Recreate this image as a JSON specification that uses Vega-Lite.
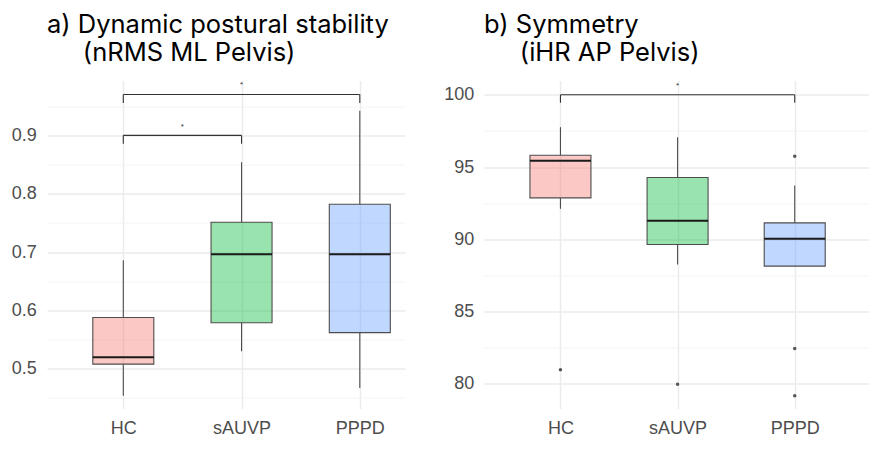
{
  "$schema": "https://vega.github.io/schema/vega-lite/v6.json",
  "background": "white",
  "padding": {"left": 11, "top": 12.5, "right": 0, "bottom": 0},
  "spacing": 38,
  "config": {
    "view": {"stroke": null},
    "font": "Liberation Sans",
    "axis": {
      "labelFont": "Liberation Sans",
      "labelFontSize": 18,
      "labelColor": "#4D4D4D",
      "domain": false,
      "ticks": false,
      "tickSize": 0,
      "labelOverlap": false,
      "tickCount": 30
    },
    "title": {
      "anchor": "start",
      "frame": "group",
      "font": "Inter",
      "fontSize": 25.5,
      "fontWeight": "normal",
      "color": "#000000",
      "lineHeight": 28.5,
      "offset": 14
    }
  },
  "datasets": {
    "boxA": [
      {"group": "HC", "pos": 1, "low": 0.454, "q1": 0.508, "median": 0.52, "q3": 0.588, "high": 0.686},
      {"group": "sAUVP", "pos": 2, "low": 0.53, "q1": 0.579, "median": 0.6965, "q3": 0.751, "high": 0.854},
      {"group": "PPPD", "pos": 3, "low": 0.467, "q1": 0.562, "median": 0.6965, "q3": 0.782, "high": 0.942}
    ],
    "sigA": [
      {"from": 1, "to": 2, "mid": 1.5, "level": 0.9, "legEnd": 0.8857, "starY": 0.915, "label": "*"},
      {"from": 1, "to": 3, "mid": 2, "level": 0.97, "legEnd": 0.9556, "starY": 0.986, "label": "*"}
    ],
    "boxB": [
      {"group": "HC", "pos": 1, "low": 92.11, "q1": 92.87, "median": 95.43, "q3": 95.82, "high": 97.76},
      {"group": "sAUVP", "pos": 2, "low": 88.26, "q1": 89.64, "median": 91.28, "q3": 94.28, "high": 97.07},
      {"group": "PPPD", "pos": 3, "low": 88.14, "q1": 88.14, "median": 90.03, "q3": 91.14, "high": 93.72}
    ],
    "outB": [
      {"group": "HC", "pos": 1, "value": 80.97},
      {"group": "sAUVP", "pos": 2, "value": 79.97},
      {"group": "PPPD", "pos": 3, "value": 95.75},
      {"group": "PPPD", "pos": 3, "value": 82.44},
      {"group": "PPPD", "pos": 3, "value": 79.17}
    ],
    "sigB": [
      {"from": 1, "to": 3, "mid": 2, "level": 100, "legEnd": 99.45, "starY": 100.64, "label": "*"}
    ]
  },
  "hconcat": [
    {
      "width": 358,
      "height": 328,
      "title": {"text": ["a) Dynamic postural stability", "\u200b\u00a0\u00a0\u00a0\u00a0\u00a0(nRMS ML Pelvis)"]},
      "layer": [
        {
          "data": {"name": "boxA"},
          "mark": {"type": "rule", "color": "#4D4D4D", "strokeWidth": 1.1},
          "encoding": {
            "x": {"field": "pos", "type": "quantitative", "title": null, "scale": {"domain": [0.397, 3.34], "nice": false, "zero": false},
              "axis": {"title": null, "values": [1, 2, 3], "grid": true, "gridColor": "#EBEBEB", "gridWidth": 1.4, "labelPadding": 11,
                "labelExpr": "datum.value == 1 ? 'HC' : datum.value == 2 ? 'sAUVP' : 'PPPD'"}},
            "y": {"field": "low", "type": "quantitative", "title": null, "scale": {"domain": [0.432, 0.994], "nice": false, "zero": false},
              "axis": {"title": null, "values": [0.45, 0.5, 0.55, 0.6, 0.65, 0.7, 0.75, 0.8, 0.85, 0.9, 0.95], "grid": true, "labelPadding": 10.7,
                "labelExpr": "round(datum.value * 100) % 10 == 0 ? format(datum.value, '.1f') : ''",
                "gridColor": {"condition": {"test": "round(datum.value * 100) % 10 != 0", "value": "#F1F1F1"}, "value": "#EBEBEB"},
                "gridWidth": {"condition": {"test": "round(datum.value * 100) % 10 != 0", "value": 0.8}, "value": 1.4}}},
            "y2": {"field": "q1"}
          }
        },
        {
          "data": {"name": "boxA"},
          "mark": {"type": "rule", "color": "#4D4D4D", "strokeWidth": 1.1},
          "encoding": {
            "x": {"field": "pos", "type": "quantitative", "title": null, "scale": {"domain": [0.397, 3.34], "nice": false, "zero": false}},
            "y": {"field": "q3", "type": "quantitative", "title": null, "scale": {"domain": [0.432, 0.994], "nice": false, "zero": false}},
            "y2": {"field": "high"}
          }
        },
        {
          "data": {"name": "boxA"},
          "mark": {"type": "bar", "size": 61, "stroke": "#4D4D4D", "strokeWidth": 1.1, "fillOpacity": 0.4},
          "encoding": {
            "x": {"field": "pos", "type": "quantitative", "title": null, "scale": {"domain": [0.397, 3.34], "nice": false, "zero": false}},
            "y": {"field": "q1", "type": "quantitative", "title": null, "scale": {"domain": [0.432, 0.994], "nice": false, "zero": false}},
            "y2": {"field": "q3"},
            "fill": {"field": "group", "type": "nominal", "scale": {"domain": ["HC", "sAUVP", "PPPD"], "range": ["#F8766D", "#00BA38", "#619CFF"]}, "legend": null}
          }
        },
        {
          "data": {"name": "boxA"},
          "mark": {"type": "tick", "orient": "horizontal", "size": 61, "thickness": 2, "color": "#1A1A1A", "opacity": 1},
          "encoding": {
            "x": {"field": "pos", "type": "quantitative", "title": null, "scale": {"domain": [0.397, 3.34], "nice": false, "zero": false}},
            "y": {"field": "median", "type": "quantitative", "title": null, "scale": {"domain": [0.432, 0.994], "nice": false, "zero": false}}
          }
        },
        {
          "data": {"name": "sigA"},
          "mark": {"type": "rule", "color": "#333333", "strokeWidth": 1.1},
          "encoding": {
            "x": {"field": "from", "type": "quantitative", "title": null, "scale": {"domain": [0.397, 3.34], "nice": false, "zero": false}},
            "x2": {"field": "to"},
            "y": {"field": "level", "type": "quantitative", "title": null, "scale": {"domain": [0.432, 0.994], "nice": false, "zero": false}}
          }
        },
        {
          "data": {"name": "sigA"},
          "mark": {"type": "rule", "color": "#333333", "strokeWidth": 1.1},
          "encoding": {
            "x": {"field": "from", "type": "quantitative", "title": null, "scale": {"domain": [0.397, 3.34], "nice": false, "zero": false}},
            "y": {"field": "level", "type": "quantitative", "title": null, "scale": {"domain": [0.432, 0.994], "nice": false, "zero": false}},
            "y2": {"field": "legEnd"}
          }
        },
        {
          "data": {"name": "sigA"},
          "mark": {"type": "rule", "color": "#333333", "strokeWidth": 1.1},
          "encoding": {
            "x": {"field": "to", "type": "quantitative", "title": null, "scale": {"domain": [0.397, 3.34], "nice": false, "zero": false}},
            "y": {"field": "level", "type": "quantitative", "title": null, "scale": {"domain": [0.432, 0.994], "nice": false, "zero": false}},
            "y2": {"field": "legEnd"}
          }
        },
        {
          "data": {"name": "sigA"},
          "mark": {"type": "text", "fontSize": 8, "color": "#333333", "baseline": "middle", "align": "center"},
          "encoding": {
            "x": {"field": "mid", "type": "quantitative", "title": null, "scale": {"domain": [0.397, 3.34], "nice": false, "zero": false}},
            "y": {"field": "starY", "type": "quantitative", "title": null, "scale": {"domain": [0.432, 0.994], "nice": false, "zero": false}},
            "text": {"field": "label"}
          }
        }
      ]
    },
    {
      "width": 386,
      "height": 328,
      "title": {"text": ["b) Symmetry", "\u200b\u00a0\u00a0\u00a0\u00a0\u00a0(iHR AP Pelvis)"]},
      "layer": [
        {
          "data": {"name": "boxB"},
          "mark": {"type": "rule", "color": "#4D4D4D", "strokeWidth": 1.1},
          "encoding": {
            "x": {"field": "pos", "type": "quantitative", "title": null, "scale": {"domain": [0.39, 3.6], "nice": false, "zero": false},
              "axis": {"title": null, "values": [1, 2, 3], "grid": true, "gridColor": "#EBEBEB", "gridWidth": 1.4, "labelPadding": 11,
                "labelExpr": "datum.value == 1 ? 'HC' : datum.value == 2 ? 'sAUVP' : 'PPPD'"}},
            "y": {"field": "low", "type": "quantitative", "title": null, "scale": {"domain": [78.29, 100.99], "nice": false, "zero": false},
              "axis": {"title": null, "values": [80, 82.5, 85, 87.5, 90, 92.5, 95, 97.5, 100], "grid": true, "labelPadding": 10.3,
                "labelExpr": "datum.value % 5 == 0 ? format(datum.value, 'd') : ''",
                "gridColor": {"condition": {"test": "datum.value % 5 != 0", "value": "#F1F1F1"}, "value": "#EBEBEB"},
                "gridWidth": {"condition": {"test": "datum.value % 5 != 0", "value": 0.8}, "value": 1.4}}},
            "y2": {"field": "q1"}
          }
        },
        {
          "data": {"name": "boxB"},
          "mark": {"type": "rule", "color": "#4D4D4D", "strokeWidth": 1.1},
          "encoding": {
            "x": {"field": "pos", "type": "quantitative", "title": null, "scale": {"domain": [0.39, 3.6], "nice": false, "zero": false}},
            "y": {"field": "q3", "type": "quantitative", "title": null, "scale": {"domain": [78.29, 100.99], "nice": false, "zero": false}},
            "y2": {"field": "high"}
          }
        },
        {
          "data": {"name": "boxB"},
          "mark": {"type": "bar", "size": 61, "stroke": "#4D4D4D", "strokeWidth": 1.1, "fillOpacity": 0.4},
          "encoding": {
            "x": {"field": "pos", "type": "quantitative", "title": null, "scale": {"domain": [0.39, 3.6], "nice": false, "zero": false}},
            "y": {"field": "q1", "type": "quantitative", "title": null, "scale": {"domain": [78.29, 100.99], "nice": false, "zero": false}},
            "y2": {"field": "q3"},
            "fill": {"field": "group", "type": "nominal", "scale": {"domain": ["HC", "sAUVP", "PPPD"], "range": ["#F8766D", "#00BA38", "#619CFF"]}, "legend": null}
          }
        },
        {
          "data": {"name": "boxB"},
          "mark": {"type": "tick", "orient": "horizontal", "size": 61, "thickness": 2, "color": "#1A1A1A", "opacity": 1},
          "encoding": {
            "x": {"field": "pos", "type": "quantitative", "title": null, "scale": {"domain": [0.39, 3.6], "nice": false, "zero": false}},
            "y": {"field": "median", "type": "quantitative", "title": null, "scale": {"domain": [78.29, 100.99], "nice": false, "zero": false}}
          }
        },
        {
          "data": {"name": "outB"},
          "mark": {"type": "circle", "size": 12, "color": "#555555", "opacity": 1},
          "encoding": {
            "x": {"field": "pos", "type": "quantitative", "title": null, "scale": {"domain": [0.39, 3.6], "nice": false, "zero": false}},
            "y": {"field": "value", "type": "quantitative", "title": null, "scale": {"domain": [78.29, 100.99], "nice": false, "zero": false}}
          }
        },
        {
          "data": {"name": "sigB"},
          "mark": {"type": "rule", "color": "#333333", "strokeWidth": 1.1},
          "encoding": {
            "x": {"field": "from", "type": "quantitative", "title": null, "scale": {"domain": [0.39, 3.6], "nice": false, "zero": false}},
            "x2": {"field": "to"},
            "y": {"field": "level", "type": "quantitative", "title": null, "scale": {"domain": [78.29, 100.99], "nice": false, "zero": false}}
          }
        },
        {
          "data": {"name": "sigB"},
          "mark": {"type": "rule", "color": "#333333", "strokeWidth": 1.1},
          "encoding": {
            "x": {"field": "from", "type": "quantitative", "title": null, "scale": {"domain": [0.39, 3.6], "nice": false, "zero": false}},
            "y": {"field": "level", "type": "quantitative", "title": null, "scale": {"domain": [78.29, 100.99], "nice": false, "zero": false}},
            "y2": {"field": "legEnd"}
          }
        },
        {
          "data": {"name": "sigB"},
          "mark": {"type": "rule", "color": "#333333", "strokeWidth": 1.1},
          "encoding": {
            "x": {"field": "to", "type": "quantitative", "title": null, "scale": {"domain": [0.39, 3.6], "nice": false, "zero": false}},
            "y": {"field": "level", "type": "quantitative", "title": null, "scale": {"domain": [78.29, 100.99], "nice": false, "zero": false}},
            "y2": {"field": "legEnd"}
          }
        },
        {
          "data": {"name": "sigB"},
          "mark": {"type": "text", "fontSize": 8, "color": "#333333", "baseline": "middle", "align": "center"},
          "encoding": {
            "x": {"field": "mid", "type": "quantitative", "title": null, "scale": {"domain": [0.39, 3.6], "nice": false, "zero": false}},
            "y": {"field": "starY", "type": "quantitative", "title": null, "scale": {"domain": [78.29, 100.99], "nice": false, "zero": false}},
            "text": {"field": "label"}
          }
        }
      ]
    }
  ]
}
